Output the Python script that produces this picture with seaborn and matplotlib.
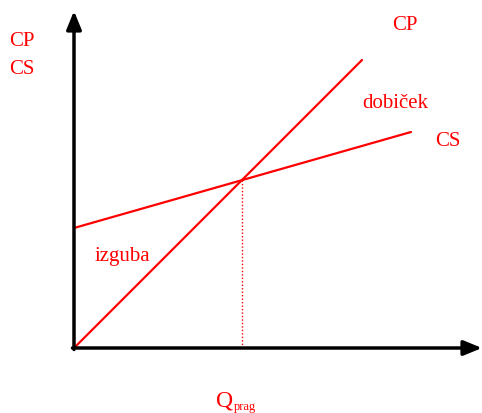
import numpy as np
import pandas as pd
import seaborn as sns
import matplotlib.pyplot as plt

# --- Data (quantity vs. revenue / cost, arbitrary units) ---
cp_q = [0, 288]          # CP (revenue) line
cp_val = [0, 288]
cs_q = [0, 337]          # CS (cost) line
cs_val = [120, 216]
q_prag = 168             # break-even quantity
v_prag = 168

sns.set_style("white")
plt.rcParams['font.family'] = ['Liberation Serif', 'DejaVu Serif']

fig = plt.figure(figsize=(4.82, 4.13), dpi=100)
ax = fig.add_axes([0, 0, 1, 1])
ax.set_xlim(-74, 408)
ax.set_ylim(-65, 348)
ax.axis('off')

df = pd.concat([
    pd.DataFrame({'Q': cp_q, 'val': cp_val, 'line': 'CP'}),
    pd.DataFrame({'Q': cs_q, 'val': cs_val, 'line': 'CS'}),
])
sns.lineplot(data=df, x='Q', y='val', units='line', estimator=None,
             color='red', lw=1.6, ax=ax, legend=False)

# dotted break-even line
ax.plot([q_prag, q_prag], [0, v_prag], color='red', lw=1, ls=(0, (1, 1.5)))

# axes with arrows
arrow = dict(arrowstyle='-|>,head_length=1.1,head_width=0.45', color='black', lw=2.5,
             shrinkA=0, shrinkB=0)
ax.annotate('', xy=(0, 337), xytext=(0, -1.5), arrowprops=arrow)
ax.annotate('', xy=(408, 0), xytext=(-1.5, 0), arrowprops=arrow)

red = 'red'
fs = 15
ax.text(331, 322, 'CP', color=red, fontsize=fs, ha='center', va='center')
ax.text(374, 207, 'CS', color=red, fontsize=fs, ha='center', va='center')
ax.text(321, 245, 'dobiček', color=red, fontsize=fs, ha='center', va='center')
ax.text(48, 92, 'izguba', color=red, fontsize=fs, ha='center', va='center')
ax.text(-52, 306, 'CP', color=red, fontsize=fs, ha='center', va='center')
ax.text(-52, 278, 'CS', color=red, fontsize=fs, ha='center', va='center')
ax.text(142, -59, 'Q', color=red, fontsize=17, ha='left', va='baseline')
ax.text(160, -62, 'prag', color=red, fontsize=9, ha='left', va='baseline')

fig.savefig('out.png', dpi=100)
